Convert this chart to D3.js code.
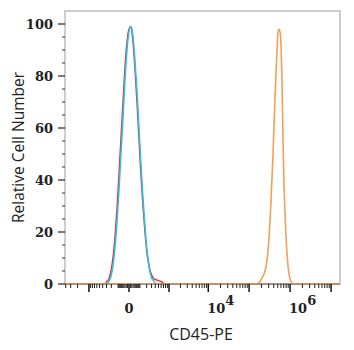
<!DOCTYPE html>
<html>
<head>
<meta charset="utf-8">
<script src="https://cdn.jsdelivr.net/npm/d3@7"></script>
<style>
  html, body { margin: 0; padding: 0; background: #fff; }
  svg { display: block; }
</style>
</head>
<body>
<svg id="chart" width="354" height="350"></svg>
<script>
// ---- Data (fluorescence value, relative cell number) ----
const redX   = [-336, -288, -245, -206, -172, -141, -113, -89, -67, -47, -30, -14, 0, 14, 30, 47, 67, 89, 113, 141, 172, 206, 245, 288, 362, 451, 594, 773];
const redY   = [0, 1, 2, 5, 10, 18, 29, 42, 56, 70, 83, 93, 98, 99, 93, 83, 70, 56, 42, 30, 20, 12, 7, 4, 2, 1.5, 1, 0];
const blueX  = [-288, -245, -206, -172, -141, -113, -89, -67, -47, -30, -14, 0, 14, 30, 47, 67, 89, 113, 141, 172, 206, 245, 288, 362, 451];
const blueY  = [0, 1, 3, 7, 14, 24, 36, 50, 64, 78, 90, 97, 99, 95, 86, 74, 60, 46, 33, 22, 13, 7, 3, 1, 0];
const orangeX = [147600, 184800, 218700, 244800, 274000, 306600, 343000, 383700, 429400, 480500, 508200, 537500, 568600, 601400, 636200, 673000, 711900, 796600, 891300, 997400, 1180000];
const orangeY = [0, 1, 3, 5, 9, 18, 32, 50, 72, 90, 97, 98, 97, 92, 78, 55, 38, 18, 7, 2, 0];

const yTicks = [0, 20, 40, 60, 80, 100];
const xLabelTicks = [{v: 0, base: "0", exp: ""}, {v: 1e4, base: "10", exp: "4"}, {v: 1e6, base: "10", exp: "6"}];
const xMajorTicks = [-1000, 0, 1e3, 1e4, 1e5, 1e6, 1e7];
const xDomain = [-4170, 1.65e7];
const yDomain = [0, 105];

// ---- Layout ----
const L = 65, R = 340, T = 11, B = 284;
const svg = d3.select("#chart");

const x = d3.scaleSymlog().constant(118).domain(xDomain).range([L, R]);
const y = d3.scaleLinear().domain(yDomain).range([B, T]);

// minor ticks
const xMinor = [];
[-4000, -3000, -2000].forEach(v => xMinor.push(v));
for (let k = 1; k <= 9; k++) { xMinor.push(-k * 100); xMinor.push(-k * 10); xMinor.push(k * 10); xMinor.push(k * 100); }
for (let e = 3; e <= 6; e++) for (let k = 2; k <= 9; k++) xMinor.push(k * Math.pow(10, e));
const yMinor = d3.range(0, 105, 5).filter(v => v % 20 !== 0);

// ---- curves ----
function series(xs, ys) {
  const pts = xs.map((v, i) => [v, ys[i]]);
  return [[xDomain[0], 0]].concat(pts, [[xDomain[1], 0]]);
}
const line = d3.line().x(d => x(d[0])).y(d => y(d[1])).curve(d3.curveMonotoneX);

const plot = svg.append("g");
plot.append("path").datum(series(redX, redY)).attr("d", line)
  .attr("fill", "none").attr("stroke", "#e8322c").attr("stroke-width", 1.5);
plot.append("path").datum(series(blueX, blueY)).attr("d", line)
  .attr("fill", "none").attr("stroke", "#27c3ea").attr("stroke-width", 1.5);
plot.append("path").datum(series(orangeX, orangeY)).attr("d", line)
  .attr("fill", "none").attr("stroke", "#f2a055").attr("stroke-width", 1.6);

// ---- frame ----
svg.append("rect").attr("x", L).attr("y", T).attr("width", R - L).attr("height", B - T)
  .attr("fill", "none").attr("stroke", "#9a9a9a").attr("stroke-width", 1);
svg.append("line").attr("x1", L).attr("x2", R).attr("y1", B).attr("y2", B)
  .attr("stroke", "#c98050").attr("stroke-width", 1.2);

// ---- y axis ----
const yAxis = svg.append("g");
yAxis.selectAll("line.maj").data(yTicks).enter().append("line")
  .attr("x1", L - 7).attr("x2", L).attr("y1", d => y(d)).attr("y2", d => y(d))
  .attr("stroke", "#222").attr("stroke-width", 1.2);
yAxis.selectAll("line.min").data(yMinor).enter().append("line")
  .attr("x1", L - 3).attr("x2", L).attr("y1", d => y(d)).attr("y2", d => y(d))
  .attr("stroke", "#333").attr("stroke-width", 1);
yAxis.selectAll("text").data(yTicks).enter().append("text")
  .attr("x", 53).attr("y", d => y(d)).attr("dy", "0.35em")
  .attr("text-anchor", "end")
  .attr("font-family", "DejaVu Serif").attr("font-weight", "bold").attr("font-size", 13)
  .attr("fill", "#222").text(d => d);

// ---- x axis ----
const xAxis = svg.append("g");
xAxis.selectAll("line.maj").data(xMajorTicks).enter().append("line")
  .attr("x1", d => x(d)).attr("x2", d => x(d)).attr("y1", B).attr("y2", B + 8)
  .attr("stroke", "#111").attr("stroke-width", 1.5);
xAxis.selectAll("line.min").data(xMinor).enter().append("line")
  .attr("x1", d => x(d)).attr("x2", d => x(d)).attr("y1", B).attr("y2", B + 4)
  .attr("stroke", "#222").attr("stroke-width", 1);
const xl = xAxis.selectAll("text").data(xLabelTicks).enter().append("text")
  .attr("x", d => d.exp ? x(d.v) - 1 : x(d.v)).attr("y", 313)
  .attr("text-anchor", d => d.exp ? "start" : "middle")
  .attr("font-family", "DejaVu Serif").attr("font-weight", "bold").attr("font-size", 13)
  .attr("fill", "#222");
xl.append("tspan").text(d => d.base);
xl.filter(d => d.exp).append("tspan").attr("dy", -8).text(d => d.exp);

// ---- titles ----
svg.append("text").attr("x", 201).attr("y", 340).attr("text-anchor", "middle")
  .attr("font-family", "Open Sans").attr("font-size", 16).attr("fill", "#222").text("CD45-PE");
svg.append("text").attr("transform", `translate(24,${(T + B) / 2}) rotate(-90)`)
  .attr("text-anchor", "middle")
  .attr("font-family", "Open Sans").attr("font-size", 15.5).attr("fill", "#222").text("Relative Cell Number");
</script>
</body>
</html>
